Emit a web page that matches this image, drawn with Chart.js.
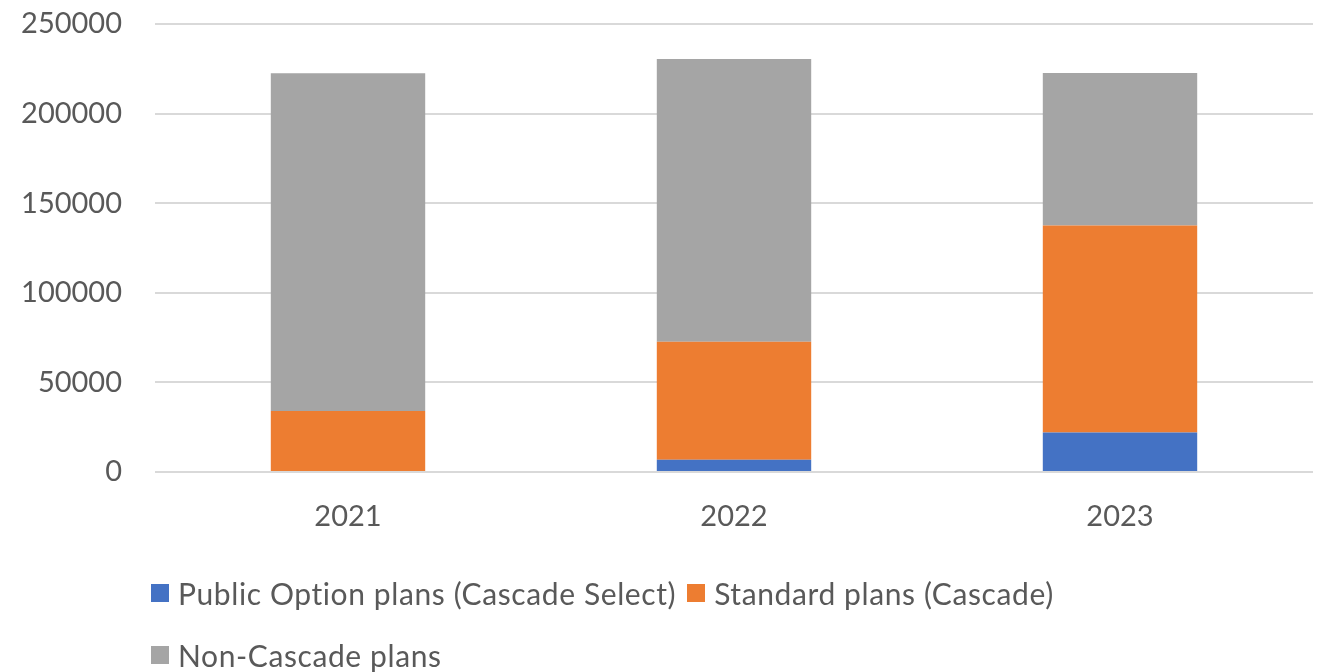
<!DOCTYPE html>
<html>
<head>
<meta charset="utf-8">
<title>Enrollment by plan type</title>
<script src="https://cdn.jsdelivr.net/npm/chart.js@4.4.1/dist/chart.umd.min.js"></script>
<style>
  html, body { margin: 0; padding: 0; background: #ffffff; }
  #wrap { position: relative; width: 1324px; height: 672px; overflow: hidden; }
  #chart { position: absolute; left: 0; top: 0; }
  #legend {
    position: absolute; left: 151px; top: 576px; width: 960px;
    display: flex; flex-wrap: wrap; row-gap: 28px;
    font-family: Lato, "Open Sans", sans-serif; font-size: 30px; letter-spacing: 0.6px; color: #595959;
  }
  #legend .item { display: flex; align-items: center; height: 34px; margin-right: 11px; white-space: nowrap; }
  #legend .box { width: 18px; height: 18px; margin-right: 9px; }
</style>
</head>
<body>
<div id="wrap">
  <canvas id="chart" width="1324" height="672"></canvas>
  <div id="legend"></div>
</div>
<script>
// Enrollment counts by year, split by plan type
const years = ['2021', '2022', '2023'];
const publicOption = [0, 6800, 22000];
const standardPlans = [34100, 65900, 115600];
const nonCascade = [188400, 157800, 85000];
const yTicks = [0, 50000, 100000, 150000, 200000, 250000];

const seriesNames = [
  'Public Option plans (Cascade Select)',
  'Standard plans (Cascade)',
  'Non-Cascade plans'
];
const seriesColors = ['#4472C4', '#ED7D31', '#A5A5A5'];

const tickFont = { family: 'Lato, "Open Sans", sans-serif', size: 29 };
const textColor = '#595959';

// Builds the legend below the canvas from the chart's own legend items
const htmlLegend = {
  id: 'htmlLegend',
  afterUpdate(chart) {
    const box = document.getElementById('legend');
    box.innerHTML = '';
    const items = chart.options.plugins.legend.labels.generateLabels(chart);
    items.forEach(it => {
      const row = document.createElement('div');
      row.className = 'item';
      const sw = document.createElement('span');
      sw.className = 'box';
      sw.style.background = it.fillStyle;
      const tx = document.createElement('span');
      tx.textContent = it.text;
      row.appendChild(sw);
      row.appendChild(tx);
      box.appendChild(row);
    });
  }
};

const datasets = [publicOption, standardPlans, nonCascade].map((vals, i) => ({
  label: seriesNames[i],
  data: vals,
  backgroundColor: seriesColors[i],
  borderWidth: 0,
  categoryPercentage: 1.0,
  barPercentage: 0.4
}));

new Chart(document.getElementById('chart'), {
  type: 'bar',
  data: { labels: years, datasets },
  plugins: [htmlLegend],
  options: {
    responsive: false,
    animation: false,
    layout: { padding: { top: 24, right: 11, bottom: 120, left: 0 } },
    plugins: {
      legend: { display: false },
      tooltip: { enabled: false }
    },
    scales: {
      x: {
        stacked: true,
        grid: { display: false, drawTicks: false },
        border: { display: false },
        ticks: { font: tickFont, color: textColor, padding: 27 },
        afterFit(scale) { scale.height = 80; }
      },
      y: {
        stacked: true,
        min: 0,
        max: 250000,
        afterBuildTicks(scale) { scale.ticks = yTicks.map(v => ({ value: v })); },
        grid: { color: '#D9D9D9', lineWidth: 2, drawTicks: false },
        border: { display: false },
        ticks: {
          font: tickFont,
          color: textColor,
          padding: 33,
          callback: v => String(v)
        },
        afterFit(scale) {
          scale.width = 155;
          scale.paddingTop = 0;
          scale.paddingBottom = 0;
        }
      }
    }
  }
});
</script>
</body>
</html>
